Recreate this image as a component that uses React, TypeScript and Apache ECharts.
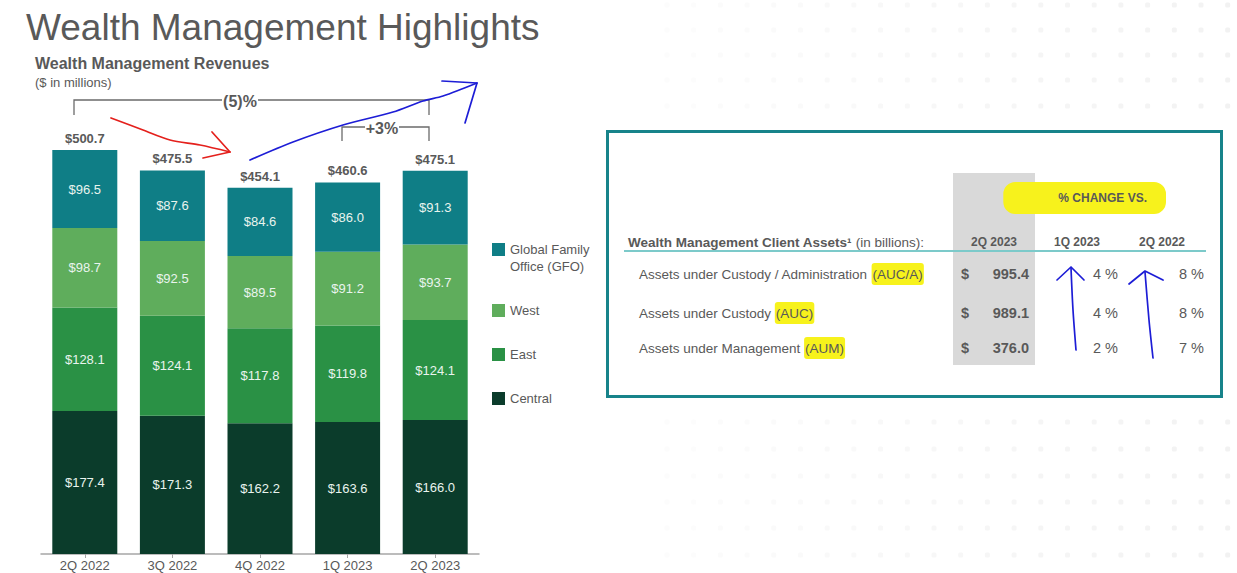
import React, { useEffect, useRef } from 'react';
import * as echarts from 'echarts';

// revenues, $ in millions
const categories = ['2Q 2022', '3Q 2022', '4Q 2022', '1Q 2023', '2Q 2023'];
const central = [177.4, 171.3, 162.2, 163.6, 166.0];
const east = [128.1, 124.1, 117.8, 119.8, 124.1];
const west = [98.7, 92.5, 89.5, 91.2, 93.7];
const gfo = [96.5, 87.6, 84.6, 86.0, 91.3];
const totals = [500.7, 475.5, 454.1, 460.6, 475.1];

const legendNames = ['Global Family\nOffice (GFO)', 'West', 'East', 'Central'];

// client assets table, $ in billions
const tableColumns = ['2Q 2023', '1Q 2023', '2Q 2022'];
const assetNames = ['Assets under Custody / Administration', 'Assets under Custody', 'Assets under Management'];
const assetCodes = ['(AUC/A)', '(AUC)', '(AUM)'];
const assetValues = [995.4, 989.1, 376.0];
const changeVsQuarter = [4, 4, 2];
const changeVsYear = [8, 8, 7];

const FONT = '"Liberation Sans", Arial, sans-serif';
const GREY = '#595959';
const COLORS = {
  gfo: '#0f7e86',
  west: '#5fad5c',
  east: '#2a9145',
  central: '#0b3c2b',
};

// faint dotted slide background on the right
function backgroundDots() {
  const els: any[] = [];
  const rows = [5, 30, 55, 80, 106, 422, 449, 476, 502, 528, 555];
  for (const y of rows) {
    for (let x = 667; x < 1237; x += 26.7) {
      const t = (x - 667) / 570;
      const g = Math.round(252 - t * 10);
      els.push({
        type: 'rect',
        shape: { x: x - 2.5, y: y - 2.5, width: 5, height: 5, r: 1.5 },
        style: { fill: `rgb(${g},${g},${g})` },
        z: -10,
      });
    }
  }
  return els;
}

const App: React.FC = () => {
  const chartRef = useRef<HTMLDivElement>(null);

  useEffect(() => {
    if (!chartRef.current) return;
    const chart = echarts.init(chartRef.current, undefined, { renderer: 'svg' });

    const inside = {
      show: true,
      position: 'inside' as const,
      color: '#e9f4ee',
      fontSize: 13,
      fontFamily: FONT,
      formatter: (p: any) => '$' + Number(p.value).toFixed(1),
    };

    const seg = (name: string, data: number[], color: string) => ({
      name,
      type: 'bar' as const,
      stack: 'rev',
      barWidth: 65,
      data,
      itemStyle: { color },
      label: inside,
    });

    const text = (x: number, y: number, t: string, extra: any = {}) => ({
      type: 'text',
      x,
      y,
      style: {
        text: t,
        fill: GREY,
        fontFamily: FONT,
        fontSize: 13,
        verticalAlign: 'middle',
        ...extra,
      },
    });

    const legendColors = [COLORS.gfo, COLORS.west, COLORS.east, COLORS.central];
    const legendY = [249, 310, 354, 398];
    const legendEls: any[] = [];
    legendNames.forEach((n, i) => {
      legendEls.push({
        type: 'rect',
        shape: { x: 492, y: legendY[i] - 6, width: 13, height: 13 },
        style: { fill: legendColors[i] },
      });
      legendEls.push(text(510, legendY[i] + (i === 0 ? 9 : 0), n, { lineHeight: 17 }));
    });

    const rowY = [274, 313, 348];
    const tableEls: any[] = [
      {
        type: 'rect',
        shape: { x: 607.5, y: 131.5, width: 614, height: 265 },
        style: { fill: '#ffffff', stroke: '#17838a', lineWidth: 3 },
      },
      {
        type: 'rect',
        shape: { x: 953, y: 173, width: 82, height: 192 },
        style: { fill: '#d9d9d9' },
      },
      {
        type: 'line',
        shape: { x1: 624, y1: 251, x2: 1206, y2: 251 },
        style: { stroke: '#7ccaca', lineWidth: 2 },
      },
      text(1166, 198, '% CHANGE VS.', {
        fontWeight: 'bold',
        fontSize: 12,
        textAlign: 'right',
        backgroundColor: '#f7f21c',
        padding: [10, 19, 10, 55],
        borderRadius: 12,
      }),
      text(628, 242, '{b|Wealth Management Client Assets¹}{r| (in billions):}', {
        rich: {
          b: { fontWeight: 'bold', fontSize: 13.5, fill: GREY, fontFamily: FONT },
          r: { fontSize: 13.5, fill: GREY, fontFamily: FONT },
        },
      }),
    ];
    const colX = [994, 1077, 1162];
    tableColumns.forEach((c, i) => {
      tableEls.push(text(colX[i], 242, c, { fontWeight: 'bold', fontSize: 12, textAlign: 'center' }));
    });
    assetNames.forEach((n, i) => {
      const y = rowY[i];
      tableEls.push(
        text(639, y, `{r|${n} }{hl|${assetCodes[i]}}`, {
          rich: {
            r: { fontSize: 13.5, fill: GREY, fontFamily: FONT },
            hl: {
              fontSize: 13.5,
              fill: GREY,
              fontFamily: FONT,
              backgroundColor: '#f7f21c',
              padding: [4, 1, 4, 1],
              borderRadius: 3,
            },
          },
        })
      );
      tableEls.push(text(961, y, '$', { fontWeight: 'bold', fontSize: 14.5 }));
      tableEls.push(text(1029, y, assetValues[i].toFixed(1), { fontWeight: 'bold', fontSize: 14.5, textAlign: 'right' }));
      tableEls.push(text(1118, y, `${changeVsQuarter[i]} %`, { fontSize: 14.5, textAlign: 'right' }));
      tableEls.push(text(1204, y, `${changeVsYear[i]} %`, { fontSize: 14.5, textAlign: 'right' }));
    });

    const stroke = (points: number[][], color: string, smooth = 0.3) => ({
      type: 'polyline',
      shape: { points, smooth },
      style: { fill: 'none', stroke: color, lineWidth: 1.7, lineCap: 'round', lineJoin: 'round' },
      z: 50,
    });
    const RED = '#e4201c';
    const BLUE = '#1d1dd6';
    const inkEls = [
      stroke([[111, 118], [143, 130], [170, 140], [200, 145], [230, 152]], RED),
      stroke([[212, 132], [230, 152], [203, 158]], RED, 0),
      stroke([[250, 160], [293, 142], [343, 125], [393, 112], [423, 101], [443, 96], [477, 83]], BLUE),
      stroke([[442, 81], [477, 83], [465, 123]], BLUE, 0),
      stroke([[1071, 268], [1073, 310], [1076, 350]], BLUE),
      stroke([[1057, 280], [1071, 267], [1084, 280]], BLUE, 0),
      stroke([[1145, 272], [1149, 320], [1153, 358]], BLUE),
      stroke([[1129, 284], [1145, 271], [1163, 280]], BLUE, 0),
    ];

    const bracketStyle = { stroke: '#6b6b6b', lineWidth: 1.3, fill: 'none' };
    const bracketEls = [
      { type: 'polyline', shape: { points: [[74, 115], [74, 100], [222, 100]] }, style: bracketStyle },
      { type: 'polyline', shape: { points: [[258, 100], [429, 100], [429, 115]] }, style: bracketStyle },
      text(240, 101, '(5)%', { fontWeight: 'bold', fontSize: 16, textAlign: 'center' }),
      { type: 'polyline', shape: { points: [[342, 141], [342, 127], [365, 127]] }, style: bracketStyle },
      { type: 'polyline', shape: { points: [[399, 127], [429, 127], [429, 141]] }, style: bracketStyle },
      text(382, 128, '+3%', { fontWeight: 'bold', fontSize: 16, textAlign: 'center' }),
    ];

    chart.setOption({
      animation: false,
      backgroundColor: '#ffffff',
      grid: { left: 41, right: 758, top: 70, bottom: 19, containLabel: false, outerBoundsMode: 'none' },
      xAxis: {
        type: 'category',
        data: categories,
        axisLine: { lineStyle: { color: '#a6a6a6', width: 1.5 } },
        axisTick: { show: true, alignWithLabel: true, length: 4, lineStyle: { color: '#a6a6a6' } },
        axisLabel: { color: GREY, fontSize: 13, fontFamily: FONT, margin: 5 },
      },
      yAxis: { type: 'value', min: 0, max: 600, show: false },
      series: [
        seg('Central', central, COLORS.central),
        seg('East', east, COLORS.east),
        seg('West', west, COLORS.west),
        seg('Global Family Office (GFO)', gfo, COLORS.gfo),
        {
          name: 'Total',
          type: 'bar',
          stack: 'rev',
          barWidth: 65,
          data: totals.map(() => 0),
          itemStyle: { color: 'transparent' },
          label: {
            show: true,
            position: 'top',
            distance: 5,
            color: GREY,
            fontSize: 13,
            fontWeight: 'bold',
            fontFamily: FONT,
            formatter: (p: any) => '$' + totals[p.dataIndex].toFixed(1),
          },
        },
      ],
      graphic: [
        ...backgroundDots(),
        text(26, 27, 'Wealth Management Highlights', { fontSize: 37 }),
        text(35, 63, 'Wealth Management Revenues', { fontSize: 16, fontWeight: 'bold' }),
        text(35, 82, '($ in millions)', { fontSize: 13 }),
        ...bracketEls,
        ...legendEls,
        ...tableEls,
        ...inkEls,
      ],
    });

    return () => {
      chart.dispose();
    };
  }, []);

  return (
    <div
      ref={chartRef}
      style={{ position: 'fixed', left: 0, top: 0, width: '1237px', height: '573px' }}
    />
  );
};

export default App;
